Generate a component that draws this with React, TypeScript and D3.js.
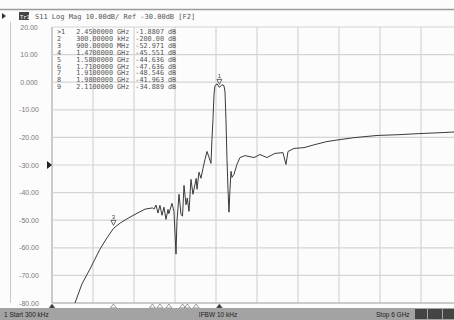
import React from "react";
import * as d3 from "d3";

// Trace S11 (frequency in GHz, magnitude in dB)
const freqGHz = [
  0.337, 0.439, 0.556, 0.702, 0.805, 0.9, 1.0, 1.112, 1.244, 1.361, 1.47,
  1.493, 1.522, 1.551, 1.58, 1.61, 1.639, 1.668, 1.698, 1.71, 1.756, 1.785,
  1.815, 1.829, 1.859, 1.888, 1.91, 1.932, 1.961, 1.98, 2.005, 2.034, 2.063,
  2.11, 2.122, 2.151, 2.18, 2.21, 2.239, 2.268, 2.298, 2.327, 2.341, 2.356,
  2.371, 2.385, 2.415, 2.45, 2.488, 2.517, 2.532, 2.546, 2.561, 2.576, 2.59,
  2.605, 2.62, 2.634, 2.663, 2.707, 2.751, 2.824, 2.883, 2.956, 3.044, 3.146,
  3.263, 3.38, 3.424, 3.454, 3.541, 3.688, 3.849, 4.024, 4.215, 4.42, 4.756,
  5.093, 5.385, 5.678, 6.0,
];
const magDB = [
  -80.0, -73.1, -67.7, -60.5, -56.4, -52.97, -51.0, -49.3, -47.5, -46.0, -45.55,
  -46.0, -44.5, -47.4, -44.64, -48.2, -45.3, -49.7, -46.1, -47.64, -43.9, -46.8,
  -62.3, -50.4, -40.6, -47.9, -48.55, -37.4, -44.4, -41.96, -46.8, -35.2, -40.6,
  -34.89, -38.8, -32.6, -34.8, -31.2, -28.0, -25.1, -27.2, -29.4, -20.7, -13.5,
  -4.5, -1.3, -0.6, -1.88, -0.9, -1.3, -3.5, -13.5, -28.0, -38.8, -47.1,
  -38.8, -32.3, -34.5, -33.4, -29.8, -27.3, -26.6, -26.9, -27.3, -26.2, -27.3,
  -25.8, -25.5, -29.8, -25.1, -24.0, -23.7, -22.6, -21.5, -20.8, -20.1, -19.3,
  -19.0, -18.6, -18.3, -17.9,
];

const yTickValues = [20, 10, 0, -10, -20, -30, -40, -50, -60, -70, -80];
const yTickLabels = ["20.00", "10.00", "0.000", "-10.00", "-20.00", "-30.00", "-40.00", "-50.00", "-60.00", "-70.00", "-80.00"];
const xDivisions = 10;
const startGHz = 0.0003;
const stopGHz = 6;
const refLevelDB = -30;

const markerIds = [">1", "2", "3", "4", "5", "6", "7", "8", "9"];
const markerNums = ["1", "2", "3", "4", "5", "6", "7", "8", "9"];
const markerFreqGHz = [2.45, 0.0003, 0.9, 1.47, 1.58, 1.71, 1.91, 1.98, 2.11];
const markerDB = [-1.8807, -200, -52.971, -45.551, -44.636, -47.636, -48.546, -41.963, -34.889];
const markerFreqText = ["2.4500000", "300.00000", "900.00000", "1.4700000", "1.5800000", "1.7100000", "1.9100000", "1.9800000", "2.1100000"];
const markerUnitText = ["GHz", "kHz", "MHz", "GHz", "GHz", "GHz", "GHz", "GHz", "GHz"];
const markerValText = ["-1.8807", "-200.00", "-52.971", "-45.551", "-44.636", "-47.636", "-48.546", "-41.963", "-34.889"];

const headerText = "S11 Log Mag 10.00dB/ Ref -30.00dB [F2]";
const statusStart = "1  Start 300 kHz";
const statusIfbw = "IFBW 10 kHz";
const statusStop = "Stop 6 GHz";

export default function App() {
  const W = 454;
  const H = 320;
  const left = 52;
  const right = 462;
  const top = 27;
  const bottom = 303;

  const x = d3.scaleLinear().domain([startGHz, stopGHz]).range([left, right]);
  const y = d3.scaleLinear().domain([-80, 20]).range([bottom, top]);

  const line = d3
    .line<number>()
    .x((_, i) => x(freqGHz[i]))
    .y((d) => y(d));

  const xGrid = d3.range(0, xDivisions + 1).map((i) => startGHz + (i * (stopGHz - startGHz)) / xDivisions);

  const mono = "'DejaVu Sans Mono', monospace";
  const sans = "'Liberation Sans', Arial, sans-serif";
  const textCol = "#555";

  return (
    <svg
      width={W}
      height={H}
      style={{ position: "absolute", left: 0, top: 0, background: "#fcfcfc" }}
      fontFamily={sans}
    >
      <defs>
        <clipPath id="plotclip">
          <rect x={left} y={top} width={W - left} height={bottom - top} />
        </clipPath>
      </defs>
      <rect x={0} y={0} width={W} height={H} fill="#fcfcfc" />
      {/* frame */}
      <line x1={0} x2={W} y1={9.5} y2={9.5} stroke="#9a9a9a" strokeWidth={1.5} />
      <line x1={10.5} x2={10.5} y1={22} y2={bottom} stroke="#c8c8c8" />

      {/* header */}
      <path d="M2,13 L6,16 L2,19 Z" fill="#333" />
      <rect x={19} y={12} width={10} height={8} fill="#444" />
      <text x={20} y={18.5} fontSize={5.5} fill="#fff" fontFamily={mono}>Tr1</text>
      <text x={35} y={19} fontSize={7} fill={textCol} fontFamily={mono}>{headerText}</text>

      {/* grid */}
      {xGrid.map((f, i) => (
        <line key={"vx" + i} x1={x(f)} x2={x(f)} y1={top} y2={bottom} stroke={i === 0 ? "#9a9a9a" : "#d4d4d4"} strokeWidth={i === 0 ? 1 : 1.2} />
      ))}
      {yTickValues.map((v, i) => (
        <line key={"hy" + i} x1={left} x2={W} y1={y(v)} y2={y(v)} stroke={i === yTickValues.length - 1 ? "#9a9a9a" : "#d4d4d4"} strokeWidth={1.2} />
      ))}
      {yTickValues.map((v, i) => (
        <text key={"yl" + i} x={29} y={y(v) + 2.5} fontSize={7} fill="#777" textAnchor="middle">{yTickLabels[i]}</text>
      ))}
      {/* reference level arrow */}
      <path d={`M47,${y(refLevelDB) - 4} L52,${y(refLevelDB)} L47,${y(refLevelDB) + 4} Z`} fill="#222" />

      {/* marker table */}
      {markerIds.map((id, i) => {
        const ty = 34 + i * 6.9;
        return (
          <g key={"mt" + i} fontFamily={mono} fontSize={6.8} fill={textCol}>
            <text x={57} y={ty}>{id}</text>
            <text x={113} y={ty} textAnchor="end">{markerFreqText[i]}</text>
            <text x={117} y={ty}>{markerUnitText[i]}</text>
            <text x={164} y={ty} textAnchor="end">{markerValText[i]}</text>
            <text x={168} y={ty}>dB</text>
          </g>
        );
      })}

      {/* trace */}
      <g clipPath="url(#plotclip)">
        <path d={line(magDB) || ""} fill="none" stroke="#3a3a3a" strokeWidth={1} strokeLinejoin="round" />
        {markerFreqGHz.map((f, i) =>
          markerDB[i] > -80 && (i === 0 || i === 2) ? (
            <g key={"mk" + i}>
              <path
                d={`M${x(f) - 2.5},${y(markerDB[i]) - 8} L${x(f) + 2.5},${y(markerDB[i]) - 8} L${x(f)},${y(markerDB[i]) - 3} Z`}
                fill="none"
                stroke="#444"
                strokeWidth={0.8}
              />
              <text x={x(f)} y={y(markerDB[i]) - 9.5} fontSize={6} fill="#444" textAnchor="middle">{markerNums[i]}</text>
            </g>
          ) : null
        )}
      </g>

      {/* bottom marker triangles */}
      {markerFreqGHz.map((f, i) => (
        <path
          key={"bm" + i}
          d={`M${x(f) - 3},${bottom + 5} L${x(f) + 3},${bottom + 5} L${x(f)},${bottom + 1} Z`}
          fill={i === 0 || i === 1 ? "#333" : "none"}
          stroke="#777"
          strokeWidth={0.7}
        />
      ))}

      {/* status bar */}
      <rect x={0} y={308} width={W} height={12} fill="#a3a3a3" />
      <text x={4} y={317} fontSize={6.5} fill="#222">{statusStart}</text>
      <text x={218} y={317} fontSize={6.5} fill="#222" textAnchor="middle">{statusIfbw}</text>
      <text x={376} y={317} fontSize={6.5} fill="#222">{statusStop}</text>
      <rect x={415} y={309} width={12} height={10} fill="#444" />
      <rect x={428} y={309} width={14} height={10} fill="#444" />
      <rect x={443} y={309} width={11} height={10} fill="#444" />
    </svg>
  );
}
